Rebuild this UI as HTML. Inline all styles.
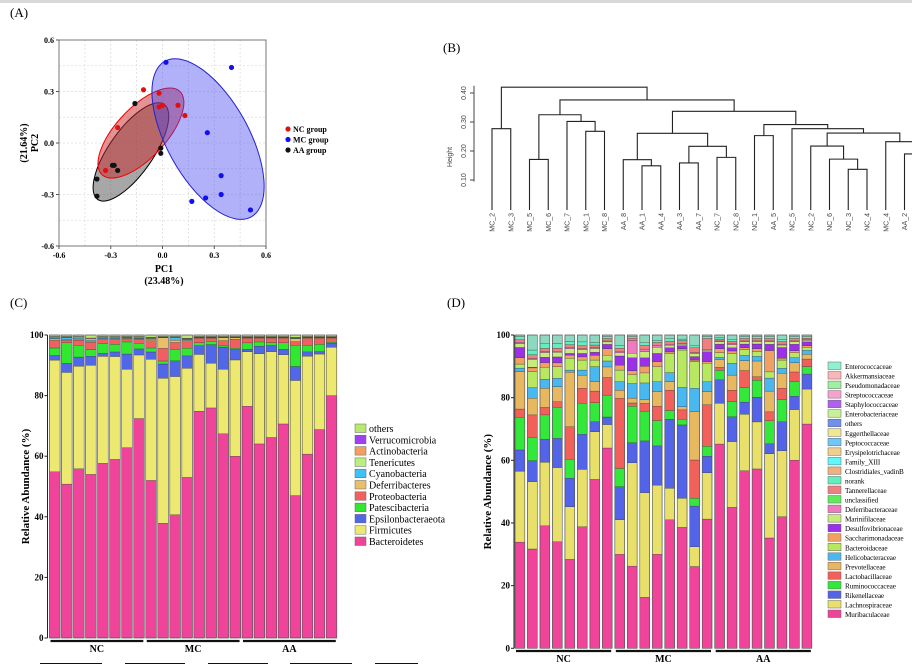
<!DOCTYPE html>
<html><head><meta charset="utf-8">
<style>
html,body{margin:0;padding:0;background:#fff;}
svg{display:block;font-family:"Liberation Serif",serif;}
</style></head>
<body>
<svg id="fig" width="912" height="667" viewBox="0 0 912 667" xmlns="http://www.w3.org/2000/svg">
<rect x="0" y="0" width="912" height="3" fill="#d8d8d8"/>
<text x="10" y="17" font-size="13">(A)</text>
<text x="443" y="52" font-size="13">(B)</text>
<text x="10" y="307" font-size="13">(C)</text>
<text x="447" y="307" font-size="13">(D)</text>
<g id="pa"></g>
<g id="pb"></g>
<g id="pc"></g>
<g id="pd"></g>
</svg>
<script>
// ---------- Panel A data ----------
const pcaTicks = [-0.6, -0.3, 0.0, 0.3, 0.6];
const pcaTickLabels = ["-0.6", "-0.3", "0.0", "0.3", "0.6"];
const ncX = [-0.11, -0.02, 0.00, 0.09, 0.13, -0.26, -0.33, -0.02];
const ncY = [0.31, 0.29, 0.22, 0.22, 0.16, 0.09, -0.16, 0.21];
const mcX = [0.02, 0.40, 0.26, 0.34, 0.34, 0.25, 0.17, 0.51];
const mcY = [0.47, 0.44, 0.06, -0.19, -0.30, -0.32, -0.34, -0.39];
const aaX = [-0.16, -0.26, -0.29, -0.28, -0.38, -0.38, -0.01, -0.01];
const aaY = [0.23, -0.16, -0.13, -0.13, -0.21, -0.31, -0.06, -0.03];
const groupNames = ["NC group", "MC group", "AA group"];

// ---------- Panel B data ----------
const tree = {h:0.42, l:{h:0.277,l:"MC_2",r:"MC_3"}, r:{h:0.376,
  l:{h:0.325, l:{h:0.171,l:"MC_5",r:"MC_6"}, r:{h:0.302,l:"MC_7",r:{h:0.268,l:"MC_1",r:"MC_8"}}},
  r:{h:0.337,
    l:{h:0.261, l:{h:0.17,l:"AA_8",r:{h:0.149,l:"AA_1",r:"AA_4"}}, r:{h:0.216,l:{h:0.159,l:"AA_3",r:"AA_7"},r:{h:0.178,l:"NC_7",r:"NC_8"}}},
    r:{h:0.291, l:{h:0.253,l:"NC_1",r:"AA_5"}, r:{h:0.277,l:"NC_5",r:{h:0.262,
        l:{h:0.217,l:"NC_2",r:{h:0.172,l:"NC_6",r:{h:0.137,l:"NC_3",r:"NC_4"}}},
        r:{h:0.232,l:"MC_4",r:{h:0.19,l:"AA_2",r:"AA_6"}}}}}}}};
const heightTicks = [0.10, 0.20, 0.30, 0.40];
const heightTickLabels = ["0.10", "0.20", "0.30", "0.40"];

// ---------- Panel C data ----------
const groups = ["NC", "MC", "AA"];
const abTicks = [0, 20, 40, 60, 80, 100];
const phylumNames = ["Bacteroidetes","Firmicutes","Epsilonbacteraeota","Patescibacteria","Proteobacteria","Deferribacteres","Cyanobacteria","Tenericutes","Actinobacteria","Verrucomicrobia","others"];
const phylumColors = ["#f0449a","#ece870","#5068e8","#30e830","#f06060","#e8c068","#40c0f8","#b8f080","#f0a060","#a040f0","#b8e870"];
const bacteroidetes = [55,51,56,54,58,59,63,72.5,52,38,41,53,76,77,68,60.5,76.5,64.5,66.5,71,47,61,69,80];
const firmicutes = [37,37,34,36,35.5,34,26,21,40,48,46,36,19,15,21.5,32,18,30,28.5,23,38,32.5,25,16];
const epsilonbact = [1.5,3,3,3,1,1.5,5,2,2.4,4.7,5.2,4.1,2.9,6.2,7.4,3.5,0.8,2.5,2,1.7,4.6,1.4,0.8,1.3];
const patescibact = [2.5,6.8,3.9,2.2,3.3,2.5,4,1.9,1.3,1,3.9,2.5,1,1.1,0.6,0.4,2.1,1.4,1,2.2,7,2.2,2.4,0.3];
const proteobact = [2.5,0.8,1.7,2.4,1.2,1.5,1,1.3,2.4,4.2,2.2,2.2,1.5,1,1.5,3,1.5,1.2,1.4,1.5,1.2,2.3,2,1.3];
const deferribact = [0.5,0.2,0.3,0.3,0.3,0.3,0.2,0.2,0.5,3.5,0.8,0.4,0.2,0.2,1,0.5,0.2,0.2,0.2,0.2,1,0.2,0.2,0.2];
const cyanobact = [0.3,0.7,0.3,0.3,0.3,0.3,0.2,0.2,0.2,0.1,0.8,0.2,0.1,0.1,0.1,0.1,0.1,0.1,0.1,0.1,0.1,0.1,0.1,0.1];
const tenericutes = [0.2,0.2,0.3,0.5,0.2,0.2,0.2,0.2,0.2,0.1,0.2,0.2,0.1,0.1,0.1,0.1,0.1,0.1,0.1,0.1,0.1,0.1,0.1,0.1];
const actinobact = [0.2,0.1,0.2,0.2,0.2,0.2,0.1,0.2,0.2,0.1,0.1,0.2,0.1,0.1,0.1,0.1,0.1,0.1,0.1,0.1,0.1,0.1,0.1,0.1];
const verrucomicro = [0.1,0.1,0.1,0.1,0.1,0.1,0.1,0.1,0.1,0.1,0.1,0.1,0.1,0.1,0.1,0.1,0.1,0.1,0.1,0.1,0.1,0.1,0.1,0.1];

// ---------- Panel D data ----------
const familyLegend = ["Enterococcaceae","Akkermansiaceae","Pseudomonadaceae","Streptococcaceae","Staphylococcaceae","Enterobacteriaceae","others","Eggerthellaceae","Peptococcaceae","Erysipelotrichaceae","Family_XIII","Clostridiales_vadinB","norank","Tannerellaceae","unclassified","Deferribacteraceae","Marinifilaceae","Desulfovibrionaceae","Saccharimonadaceae","Bacteroidaceae","Helicobacteraceae","Prevotellaceae","Lactobacillaceae","Ruminococcaceae","Rikenellaceae","Lachnospiraceae","Muribaculaceae"];
const familyColors = ["#90f0d0","#f8b8b8","#a0f0a0","#f8a0d0","#b060f0","#c8f09a","#7090f0","#f0e890","#70c8f8","#f0d090","#60f8f8","#f0b080","#60f0c0","#f08080","#60e860","#f07ac0","#c8ec7c","#9b30e8","#f0a060","#b8e860","#4ab8f0","#e8b860","#f2605a","#33e83a","#5464e8","#e8e06a","#f0449a"];
const muribaculaceae = [34,31.7,39.1,34,28.4,38.8,53.9,64,30,27.1,16.3,30,41,38.6,26.1,41.5,65.2,45,56.9,58,35.6,42,60.6,71.8];
const lachnospiraceae = [22.7,21.5,20.3,23.7,16.8,18.3,15.2,7.5,11,34.1,33.4,22.1,10.1,9.3,6.3,14.9,13,21,18.1,15.2,27.2,21.1,16.3,11.2];
const rikenellaceae = [6.8,6.7,7.3,9.3,9.1,11.2,3.2,2.4,10.6,6.6,16.5,12.5,22,23.4,13,5.3,7.5,7.9,3.9,8,3.2,9.2,4.3,4.8];
const ruminococcaceae = [10.5,7.4,7.8,9.9,6,9.9,6.1,7,5.8,12,9.5,8.1,2.8,1.8,2.5,3.2,3,4.8,4.6,5.5,7.4,7,4.7,2.4];
const lactobacillaceae = [2.6,7.2,2.4,1.8,10.4,4.8,3.7,5.6,22.4,1.1,2.5,4.6,6.5,3,12.2,13.3,1,3.7,5.5,1.1,2.9,3.7,3.1,2.4];
const prevotellaceae = [12,5.3,6.1,4.8,17.4,4.2,3,3.4,2.6,1.6,1.1,4.6,2.7,1,15.4,4.2,2.4,4.8,3.2,5.1,6.7,4.8,3,1.5];
const helicobacteraceae = [1.1,3.4,2.9,2.7,0.7,1.6,4.8,1.9,2.7,4.8,5.4,3.2,2.9,6.2,7.5,3.2,0.8,3.8,1.7,1.5,4.2,1.6,1.6,1.3];
const bacteroidaceae = [1.3,5.1,3.8,3.7,3.8,3.2,2.1,1.8,3.7,3,3.2,4.8,6.1,11.9,8.5,5.9,1.5,3.1,1.8,1.5,2,2.6,1.6,1];
const saccharimonadaceae = [2,1.2,1.5,1.2,1,1,1.5,2.1,1.6,1.2,2.1,1.6,0.5,0.4,0.5,0.5,1.2,0.8,0.6,1,6.9,0.6,0.6,0.5];
const desulfovibrionaceae = [3.3,0.2,1.7,1.9,0.5,1.1,1,1.4,2.9,4.3,2.7,2.6,1.3,1,1.1,3.2,1.5,1,1.2,1.5,2,3.4,2.1,1.2];
const marinifilaceae = [1.2,2.5,1.5,1.5,1.5,1.2,1.2,0.8,1,1.5,2,2,0.8,0.5,1,0.5,0.8,1,0.8,0.8,0.8,0.8,0.8,0.5];
const deferribacteraceae = [0.5,0.3,0.3,0.3,0.3,0.3,0.3,0.3,0.5,4.2,0.8,0.5,0.3,0.3,0.3,0.3,0.2,0.3,0.2,0.2,0.3,0.3,0.3,0.2];
const tannerellaceae = [0.8,1.2,1,1,1,1,0.8,0.8,1,0.8,1.2,1,1,0.8,1.5,3.5,0.6,0.8,0.8,0.8,0.8,0.8,0.8,0.5];
const norankFam = [1,1.5,1.5,1.5,1,1.2,0.8,0.6,0.8,0.5,0.8,0.6,0.8,0.5,0.8,0.6,0.6,0.6,0.6,0.6,0.6,0.6,0.6,0.5];

const NS = "http://www.w3.org/2000/svg";
function mk(parent, tag, attrs, text){
  const e = document.createElementNS(NS, tag);
  for (const k in attrs) e.setAttribute(k, attrs[k]);
  if (text !== undefined) e.textContent = text;
  parent.appendChild(e); return e;
}

// ================= Panel A =================
(function(){
  const g = document.getElementById('pa');
  const X0=59, X1=266, Y0=40, Y1=246;
  const sx = v => X0 + (v+0.6)/1.2*(X1-X0);
  const sy = v => Y0 + (0.6-v)/1.2*(Y1-Y0);
  for (let v=-0.45; v<0.6; v+=0.15){
    const gx = mk(g,'line',{x1:sx(v),x2:sx(v),y1:Y0,y2:Y1,stroke:'#ddd','stroke-dasharray':'2,2','stroke-width':0.8});
    
    
    const gy = mk(g,'line',{x1:X0,x2:X1,y1:sy(v),y2:sy(v),stroke:'#ddd','stroke-dasharray':'2,2','stroke-width':0.8});
    
    
  }
  const box = mk(g,'rect',{x:X0,y:Y0,width:X1-X0,height:Y1-Y0,fill:'none',stroke:'#777','stroke-width':1});
  
  
  pcaTicks.forEach((t,i)=>{
    const tx = mk(g,'text',{x:sx(t),y:258,'font-size':8,'font-weight':'bold','text-anchor':'middle'},pcaTickLabels[i]);
    
    
    const ty = mk(g,'text',{x:54,y:sy(t)+3,'font-size':8,'font-weight':'bold','text-anchor':'end'},pcaTickLabels[i]);
    
    
    mk(g,'line',{x1:sx(t),x2:sx(t),y1:Y1,y2:Y1+3,stroke:'#555'});
    mk(g,'line',{x1:X0-3,x2:X0,y1:sy(t),y2:sy(t),stroke:'#555'});
  });
  const xl = mk(g,'text',{x:164,y:272,'font-size':10,'font-weight':'bold','text-anchor':'middle'},'PC1');
  
  
  const xl2 = mk(g,'text',{x:164,y:284,'font-size':10,'font-weight':'bold','text-anchor':'middle'},'(23.48%)');
  
  
  const yl = mk(g,'text',{x:0,y:0,'font-size':10,'font-weight':'bold','text-anchor':'middle',transform:'translate(38,143) rotate(-90)'},'PC2');
  
  
  const yl2 = mk(g,'text',{x:0,y:0,'font-size':10,'font-weight':'bold','text-anchor':'middle',transform:'translate(27,143) rotate(-90)'},'(21.64%)');
  
  
  const ells = [
    {cx:-0.183,cy:-0.052,rx:58,ry:22,a:-55,f:'rgba(60,60,60,0.45)',s:'#000',n:'aa-ellipse'},
    {cx:-0.125,cy:0.058,rx:57,ry:25,a:-47,f:'rgba(200,40,40,0.5)',s:'#e00',n:'nc-ellipse'},
    {cx:0.264,cy:0.023,rx:89,ry:41,a:61,f:'rgba(70,70,240,0.42)',s:'#22c',n:'mc-ellipse'}
  ];
  ells.forEach(e=>{
    const el = mk(g,'ellipse',{cx:0,cy:0,rx:e.rx,ry:e.ry,fill:e.f,stroke:e.s,'stroke-width':1,transform:`translate(${sx(e.cx)},${sy(e.cy)}) rotate(${e.a})`});
    
    
  });
  const sets = [[aaX,aaY,'#111','aa-point'],[ncX,ncY,'#e01010','nc-point'],[mcX,mcY,'#1010f0','mc-point']];
  sets.forEach(s=>{
    s[0].forEach((v,i)=>{
      const c = mk(g,'circle',{cx:sx(v),cy:sy(s[1][i]),r:2.6,fill:s[2]});
      
      
    });
  });
  const lc = ['#e01010','#1010f0','#111'];
  groupNames.forEach((n,i)=>{
    const c = mk(g,'circle',{cx:288,cy:129+i*10.5,r:2.6,fill:lc[i]});
    
    
    const t = mk(g,'text',{x:293,y:132+i*10.5,'font-size':8,'font-weight':'bold'},n);
    
    
  });
})();

// ================= Panel B =================
(function(){
  const g = document.getElementById('pb');
  const hy = h => 93 + (0.40-h)*290;
  const LEAFY = 210;
  let idx = 0;
  const lx = i => 492 + i*18.75;
  function draw(n){
    if (typeof n === 'string'){
      const x = lx(idx++);
      const t = mk(g,'text',{x:0,y:0,'font-size':7,fill:'#444','font-family':'Liberation Sans, sans-serif','text-anchor':'end',transform:`translate(${x+2.5},${LEAFY+3}) rotate(-90)`},n);
      
      
      return {x:x,y:LEAFY};
    }
    const a = draw(n.l), b = draw(n.r);
    const y = hy(n.h);
    const p = mk(g,'path',{d:`M${a.x},${a.y}V${y}H${b.x}V${b.y}`,fill:'none',stroke:'#222','stroke-width':1.1});
    
    
    return {x:(a.x+b.x)/2,y:y};
  }
  draw(tree);
  const ax = mk(g,'line',{x1:474,x2:474,y1:hy(0.425),y2:hy(0.095),stroke:'#444'});
  
  
  heightTicks.forEach((t,i)=>{
    mk(g,'line',{x1:470,x2:474,y1:hy(t),y2:hy(t),stroke:'#444'});
    const tl = mk(g,'text',{x:0,y:0,'font-size':7,fill:'#444','font-family':'Liberation Sans, sans-serif','text-anchor':'middle',transform:`translate(466,${hy(t)}) rotate(-90)`},heightTickLabels[i]);
    
    
  });
  const ht = mk(g,'text',{x:0,y:0,'font-size':7,fill:'#444','font-family':'Liberation Sans, sans-serif','text-anchor':'middle',transform:'translate(452,157) rotate(-90)'},'Height');
  
  
})();

// ================= stacked bar helper =================
function stacked(g, opt, series, colors, names, restColor){
  const n = series[0].length;
  const ys = v => opt.y0 - v*opt.k;
  for (let i=0;i<n;i++){
    const x = opt.x0 + i*opt.pitch;
    let total = 0;
    series.forEach(s=>{ total += s[i]; });
    const f = total > 99.5 ? 99.5/total : 1;
    let cum = 0;
    series.forEach((s,j)=>{
      const v = s[i]*f;
      const r = mk(g,'rect',{x:x,y:ys(cum+v),width:opt.bw,height:v*opt.k,fill:colors[j],stroke:'#333','stroke-width':0.3});
      
      
      cum += v;
    });
    if (cum < 100){
      const r = mk(g,'rect',{x:x,y:ys(100),width:opt.bw,height:(100-cum)*opt.k,fill:restColor,stroke:'#333','stroke-width':0.3});
      
      
    }
    const o = mk(g,'rect',{x:x,y:ys(100),width:opt.bw,height:100*opt.k,fill:'none',stroke:'#555','stroke-width':0.6});
    
    
  }
  const ax = mk(g,'line',{x1:opt.ax,x2:opt.ax,y1:ys(100),y2:ys(0),stroke:'#222','stroke-width':1});
  
  
  abTicks.forEach(t=>{
    mk(g,'line',{x1:opt.ax-3,x2:opt.ax,y1:ys(t),y2:ys(t),stroke:'#222'});
    const tl = mk(g,'text',{x:opt.ax-4,y:ys(t)+3,'font-size':9,'font-weight':'bold','text-anchor':'end'},String(t));
    
    
  });
  const yt = mk(g,'text',{x:0,y:0,'font-size':11,'font-weight':'bold','text-anchor':'middle',transform:`translate(${opt.tx},${ys(50)}) rotate(-90)`},'Relative Abundance (%)');
  
  
  groups.forEach((gname,gi)=>{
    const xa = opt.x0 + gi*8*opt.pitch + 1, xb = opt.x0 + (gi*8+7)*opt.pitch + opt.bw - 1;
    const l = mk(g,'line',{x1:xa,x2:xb,y1:opt.gy,y2:opt.gy,stroke:'#111','stroke-width':2.2});
    
    
    const t = mk(g,'text',{x:(xa+xb)/2,y:opt.gy+11,'font-size':10,'font-weight':'bold','text-anchor':'middle'},gname);
    
    
  });
}

// ================= Panel C =================
(function(){
  const g = document.getElementById('pc');
  const series = [bacteroidetes,firmicutes,epsilonbact,patescibact,proteobact,deferribact,cyanobact,tenericutes,actinobact,verrucomicro];
  stacked(g,{x0:49.5,pitch:12.03,bw:10.6,y0:638,k:3.03,ax:47.5,tx:29,gy:641}, series, phylumColors, phylumNames, '#b8e870');
  const order = phylumNames.slice().reverse(), cols = phylumColors.slice().reverse();
  order.forEach((n,i)=>{
    const y = 424 + i*11.3;
    const r = mk(g,'rect',{x:355,y:y,width:11,height:8.5,fill:cols[i],stroke:'#666','stroke-width':0.5});
    
    
    const t = mk(g,'text',{x:369,y:y+8,'font-size':10},n);
    
    
  });
  [[40,102],[125,185],[208,268],[290,352],[375,418]].forEach(p=>{
    const l = mk(g,'line',{x1:p[0],x2:p[1],y1:663.5,y2:663.5,stroke:'#111','stroke-width':1});
    
    
  });
})();

// ================= Panel D =================
(function(){
  const g = document.getElementById('pd');
  const series = [muribaculaceae,lachnospiraceae,rikenellaceae,ruminococcaceae,lactobacillaceae,prevotellaceae,helicobacteraceae,bacteroidaceae,saccharimonadaceae,desulfovibrionaceae,marinifilaceae,deferribacteraceae,tannerellaceae,norankFam];
  const names = ["Muribaculaceae","Lachnospiraceae","Rikenellaceae","Ruminococcaceae","Lactobacillaceae","Prevotellaceae","Helicobacteraceae","Bacteroidaceae","Saccharimonadaceae","Desulfovibrionaceae","Marinifilaceae","Deferribacteraceae","Tannerellaceae","norank"];
  const cols = names.map(n=>familyColors[familyLegend.indexOf(n)]);
  stacked(g,{x0:515,pitch:12.48,bw:9.8,y0:648.3,k:3.133,ax:514,tx:491,gy:651}, series, cols, names, '#8fd8c0');
  familyLegend.forEach((n,i)=>{
    const y = 362 + i*9.54;
    const r = mk(g,'rect',{x:828,y:y,width:13,height:7.5,fill:familyColors[i],stroke:'#666','stroke-width':0.5});
    
    
    const t = mk(g,'text',{x:845,y:y+7,'font-size':7.2,'letter-spacing':'-0.1'},n);
    
    
  });
})();
</script>
</body></html>
